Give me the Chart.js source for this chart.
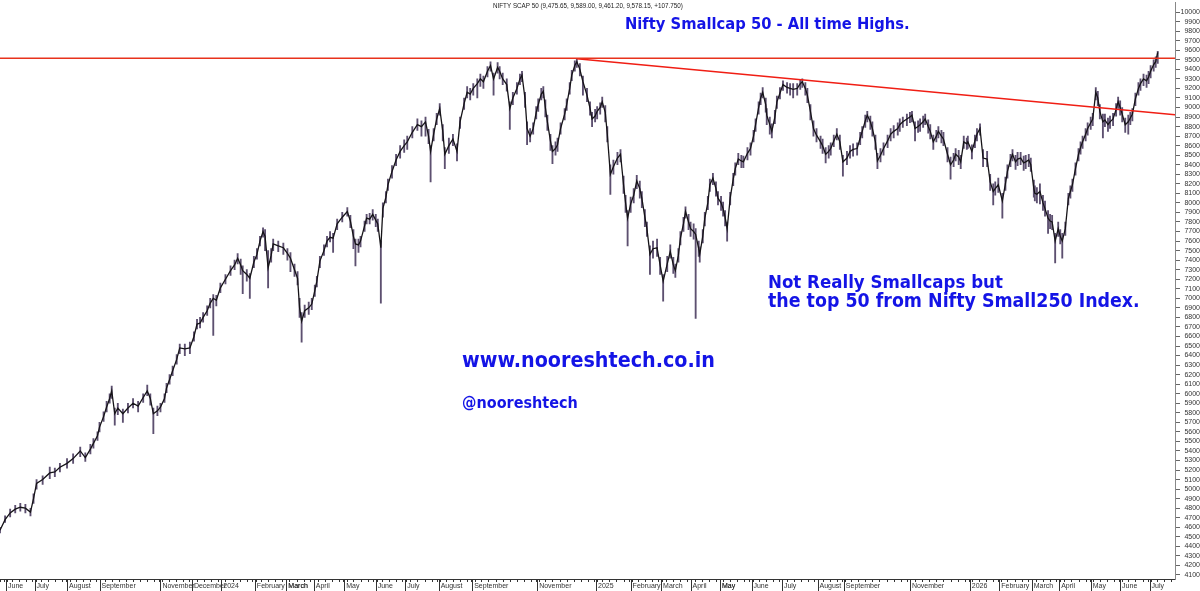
<!DOCTYPE html>
<html>
<head>
<meta charset="utf-8">
<script src="https://cdn.jsdelivr.net/npm/chart.js@4.4.1/dist/chart.umd.min.js"></script>
<style>
  html, body { margin: 0; padding: 0; background: #fff; }
  #wrap { width: 1200px; height: 591px; position: relative; }
</style>
</head>
<body>
<div id="wrap"><canvas id="chart"></canvas></div>
<script>
// NIFTY SCAP 50 daily, sampled off the chart. day = calendar days from the first bar
const day = [
  0,5,10,15,20,25,30,33,36,42, 49,54,59,66,72,79,84,89,92,96,
  98,102,105,108,110,113,116,121,126,131, 136,141,145,148,151,155,158,162,164,167,
  170,174,177,182,187,191,194,197,200,204, 207,210,213,217,222,227,231,234,237,239,
  243,246,250,253,256,259,261,264,267,269, 274,279,283,286,290,293,295,297,300,304,
  307,310,312,315,319,322,325,328,332,337, 342,345,348,350,353,355,359,361,364,367,
  370,372,375,377,380,382,386,390,
  394,398,401,406,411,415,419,422,424,427, 430,433,436,438,442,446,450,453,457,460,
  463,466,470,473,476,480,483,486,490,492, 495,499,502,505,509,512,514,517,519,522,
  525,528,530,533,535,537,539,542,544,547, 549,552,556,558,561,563,566,568,571,574,
  578,581,583,586,588,591,593,596,598,601, 604,608,611,614,616,618,621,624,627,630,
  632,635,637,640,643,647,650,653,657,660, 663,665,668,670,673,675,678,680,683,685,
  688,689,692,694,697,699,702,705,707,710, 712,714,716,719,722,724,727,730,732,736,
  739,742,744,747,749,751,754,755,758,760, 763,765,768,771,775,778,781,785,
  788,790,793,795,798,801,804,808,810,813, 816,818,821,824,827,830,834,837,840,844,
  847,849,852,854,857,859,862,864,867,870, 874,877,880,884,886,889,893,896,898,901,
  904,906,909,911,914,916,919,922,924,927, 929,933,936,939,941,944,946,949,952,953,
  957,960,962,965,968,972,975,978,980,983, 987,990,992,995,997,1000,1002,1005,1008,1010,
  1013,1015,1018,1019,1021,1024,1027,1029,1032,1034, 1036,1039,1042,1044,1046,1049,1052,1054,1056,1059,
  1062,1064,1066,1069,1071,1074,1076,1079,1081,1083, 1086,1088,1091,1093,1096,1099,1101,1103,1105,1108,
  1111,1113,1115,1118,1121,1123,1126,1129,1131,1133, 1136,1138,1140
];

const close = [
  4570,4680,4750,4790,4810,4800,4760,4900,5060,5100, 5170,5180,5230,5270,5320,5400,5330,5420,5480,5560,
  5650,5760,5860,5950,6030,5790,5850,5790,5850,5900, 5870,5960,6030,5950,5790,5820,5860,5950,6060,6150,
  6240,6360,6480,6470,6480,6600,6730,6740,6800,6870, 6950,7000,6980,7110,7200,7290,7350,7420,7350,7290,
  7250,7210,7380,7460,7600,7700,7650,7320,7450,7570, 7550,7530,7470,7420,7300,7210,6900,6760,6870,6900,
  6940,7080,7180,7390,7500,7600,7640,7630,7780,7850, 7910,7810,7650,7570,7560,7600,7760,7840,7830,7880,
  7820,7780,7530,7940,8060,8190,8330,8450,
  8540,8600,8640,8740,8820,8800,8850,8700,8540,8720, 8880,8990,8750,8510,8600,8670,8540,8850,9040,9160,
  9140,9200,9250,9300,9270,9380,9440,9300,9420,9380, 9300,9240,8990,9100,9200,9300,9340,9090,8780,8700,
  8780,8950,9030,9140,9170,9000,8850,8650,8540,8570, 8610,8780,8930,9030,9200,9340,9440,9480,9400,9270,
  9130,8990,8880,8910,8960,9000,9060,8950,8720,8300, 8380,8470,8510,8190,8000,7840,7990,8080,8230,8150,
  8050,7850,7730,7460,7520,7530,7350,7180,7360,7490, 7350,7290,7450,7630,7780,7910,7800,7730,7700,7670,
  7520,7460,7650,7840,8000,8190,8260,8150,8050,8000, 7940,7850,7730,8050,8250,8360,8460,8440,8430,8520,
  8570,8700,8820,9000,9100,9160,9030,8920,8820,8750, 8900,9060,9150,9240,9210,9200,9190,9200,
  9250,9270,9200,9130,8960,8780,8710,8640,8600,8510, 8540,8570,8650,8720,8640,8430,8470,8540,8560,8570,
  8680,8750,8860,8920,8850,8780,8640,8440,8500,8570, 8650,8720,8750,8780,8820,8850,8880,8900,8920,8780,
  8800,8820,8850,8880,8800,8750,8640,8700,8750,8700, 8670,8510,8400,8450,8510,8480,8430,8640,8620,8640,
  8540,8650,8720,8780,8470,8460,8220,8120,8150,8190, 8020,8200,8330,8450,8510,8430,8460,8470,8420,8430,
  8450,8400,8150,8100,8090,8120,8000,7940,7840,7810, 7800,7600,7730,7650,7600,7730,8050,8120,8190,8360,
  8510,8580,8640,8720,8780,8840,8880,9160,9100,8960, 8850,8870,8820,8850,8880,8980,9060,9000,8930,8820,
  8850,8890,8930,9090,9200,9250,9300,9280,9320,9380, 9450,9480,9578
];

const low = [
  4540,4650,4710,4750,4770,4750,4720,4850,5000,5050, 5110,5130,5180,5220,5270,5340,5290,5370,5430,5510,
  5600,5710,5810,5900,5950,5670,5780,5700,5800,5850, 5810,5910,5980,5880,5580,5770,5810,5910,6010,6100,
  6190,6310,6420,6400,6420,6550,6680,6690,6750,6820, 6900,6610,6920,7060,7150,7240,7300,7360,7250,7050,
  7180,7000,7320,7410,7550,7640,7500,7110,7380,7500, 7490,7460,7400,7280,7230,7140,6800,6540,6800,6830,
  6880,7020,7120,7320,7450,7540,7590,7480,7720,7800, 7860,7740,7520,7340,7480,7540,7700,7780,7780,7820,
  7750,7700,6950,7850,8000,8130,8260,8390,
  8470,8530,8560,8680,8760,8700,8700,8620,8220,8650, 8820,8920,8650,8360,8520,8600,8440,8780,8980,9100,
  9080,9130,9100,9220,9200,9320,9380,9130,9360,9300, 9240,9170,8770,9030,9140,9240,9270,9000,8610,8640,
  8720,8880,8960,9080,9100,8900,8760,8550,8410,8500, 8540,8720,8870,8970,9140,9280,9380,9420,9330,9130,
  9060,8920,8800,8850,8880,8930,9000,8850,8640,8090, 8300,8400,8430,8100,7900,7550,7900,8000,8150,8050,
  7950,7750,7650,7250,7420,7440,7250,6970,7280,7420, 7260,7220,7380,7560,7700,7840,7720,7650,7620,6790,
  7440,7380,7580,7760,7930,8120,8190,8070,7980,7920, 7860,7760,7600,7980,8180,8290,8400,8370,8370,8450,
  8500,8640,8750,8930,9030,9100,8950,8820,8720,8680, 8830,8990,9090,9180,9150,9130,9100,9130,
  9190,9210,9130,9050,8870,8700,8640,8570,8520,8420, 8470,8500,8590,8660,8560,8280,8400,8470,8490,8500,
  8610,8680,8790,8850,8770,8700,8560,8360,8430,8500, 8580,8650,8680,8710,8750,8790,8810,8840,8850,8650,
  8740,8750,8790,8820,8730,8670,8560,8640,8680,8630, 8600,8430,8250,8380,8440,8400,8360,8570,8560,8570,
  8460,8580,8650,8710,8380,8380,8130,7980,8080,8110, 7840,8130,8260,8380,8440,8350,8390,8400,8340,8360,
  8380,8330,8060,8020,8000,7990,7920,7860,7680,7730, 7720,7370,7650,7570,7420,7660,7980,8050,8120,8290,
  8440,8510,8570,8650,8710,8770,8810,9080,9020,8880, 8680,8800,8750,8780,8810,8910,8990,8920,8850,8740,
  8720,8820,8860,9020,9130,9180,9230,9210,9250,9310, 9380,9420,9461
];

const high = [
  4600,4720,4790,4830,4850,4840,4800,4950,5100,5140, 5230,5220,5270,5320,5370,5440,5380,5470,5530,5600,
  5700,5810,5920,6000,6080,5850,5900,5840,5900,5950, 5920,6000,6090,6000,5850,5870,5900,6000,6110,6200,
  6290,6410,6520,6520,6540,6650,6780,6800,6850,6920, 7000,7040,7030,7160,7250,7340,7400,7470,7410,7340,
  7300,7260,7440,7520,7650,7740,7720,7500,7520,7620, 7600,7580,7520,7480,7360,7280,7000,6850,6930,6960,
  7000,7140,7230,7440,7560,7650,7700,7680,7830,7900, 7950,7870,7720,7620,7620,7650,7810,7880,7890,7930,
  7880,7830,7600,8000,8120,8250,8390,8510,
  8600,8660,8700,8800,8880,8860,8900,8770,8600,8780, 8940,9040,8820,8580,8680,8720,8620,8900,9100,9220,
  9200,9250,9300,9350,9330,9430,9480,9360,9470,9430, 9360,9300,9060,9160,9260,9350,9380,9160,8850,8780,
  8840,9010,9090,9200,9220,9080,8920,8720,8600,8640, 8680,8840,8990,9090,9260,9390,9490,9510,9460,9330,
  9200,9060,8950,8980,9010,9050,9110,9020,8800,8400, 8450,8530,8560,8280,8080,7920,8060,8150,8290,8230,
  8120,7930,7800,7550,7600,7620,7430,7250,7440,7560, 7430,7360,7520,7700,7850,7960,7880,7800,7780,7730,
  7600,7540,7720,7900,8070,8250,8310,8220,8120,8070, 8010,7920,7800,8110,8310,8420,8520,8500,8490,8580,
  8630,8760,8880,9060,9150,9210,9100,8990,8900,8830, 8970,9120,9210,9280,9260,9250,9250,9250,
  9290,9300,9260,9200,9030,8860,8780,8700,8670,8580, 8600,8630,8710,8780,8710,8500,8540,8600,8620,8630,
  8740,8800,8920,8960,8910,8850,8710,8520,8570,8630, 8710,8780,8810,8840,8880,8900,8930,8950,8960,8850,
  8860,8880,8910,8930,8870,8820,8710,8760,8800,8760, 8740,8580,8480,8520,8570,8550,8500,8700,8680,8700,
  8610,8710,8780,8830,8560,8540,8300,8200,8220,8260, 8100,8270,8400,8510,8560,8500,8530,8530,8490,8500,
  8510,8470,8240,8180,8160,8200,8080,8020,7920,7880, 7870,7680,7800,7720,7680,7800,8100,8180,8250,8420,
  8570,8640,8700,8780,8840,8900,8940,9210,9170,9030, 8930,8930,8890,8910,8940,9040,9110,9070,9000,8890,
  8920,8950,8990,9150,9260,9300,9350,9340,9380,9440, 9500,9530,9589
];

// month ticks on the date axis (days), with the labels the chart prints
const monthDay = [6,34,66,98,158,189,218,251,282,309,339,370,399,432,465,529,587,621,651,680,709,740,770,805,831,896,955,984,1016,1043,1074,1103,1132];
const monthLabel = ['June','July','August','September','November','December','2024','February','March','April','May','June',
  'July','August','September','November','2025','February','March','April','May','June',
  'July','August','September','November','2026','February','March','April','May','June','July'];

// drawn lines: all-time-high level and falling trendline
const athLevel = 9515;
const trendDay = [568, 1157];
const trendVal = [9510, 8925];

const xMax = 1157;
const yMin = 4058, yMax = 10104;

if (close.length !== day.length || low.length !== day.length || high.length !== day.length) {
  throw new Error('length mismatch ' + [day.length, close.length, low.length, high.length].join(','));
}

const blue = '#1414e6';

function fitText(ctx, text, x, y, width, weight, family) {
  ctx.font = weight + ' 20px ' + family;
  const w = ctx.measureText(text).width;
  const size = 20 * width / w;
  ctx.font = weight + ' ' + size.toFixed(2) + 'px ' + family;
  ctx.fillText(text, x, y);
}

const notes = {
  id: 'notes',
  afterDraw(chart) {
    const ctx = chart.ctx;
    const xs = chart.scales.x;
    ctx.save();
    // month separators
    ctx.strokeStyle = '#333';
    ctx.lineWidth = 1;
    monthDay.forEach(d => {
      const px = Math.round(xs.getPixelForValue(d)) + 0.5;
      ctx.beginPath();
      ctx.moveTo(px, chart.chartArea.bottom);
      ctx.lineTo(px, 591);
      ctx.stroke();
    });
    ctx.textBaseline = 'alphabetic';
    ctx.fillStyle = '#222';
    fitText(ctx, 'NIFTY SCAP 50 (9,475.65, 9,589.00, 9,461.20, 9,578.15, +107.750)', 493, 8, 190, 'normal', '"Liberation Sans", Arial');
    ctx.fillStyle = blue;
    const fam = '"DejaVu Sans Condensed", "DejaVu Sans", Verdana';
    fitText(ctx, 'Nifty Smallcap 50 - All time Highs.', 625, 29, 285, 'bold', fam);
    fitText(ctx, 'Not Really Smallcaps but', 768, 288, 235, 'bold', fam);
    fitText(ctx, 'the top 50 from Nifty Small250 Index.', 768, 307, 372, 'bold', fam);
    fitText(ctx, 'www.nooreshtech.co.in', 462, 367, 253, 'bold', fam);
    fitText(ctx, '@nooreshtech', 462, 408, 116, 'bold', fam);
    ctx.restore();
  }
};

const ctx = document.getElementById('chart').getContext('2d');
new Chart(ctx, {
  type: 'bar',
  data: {
    datasets: [
      {
        type: 'line',
        data: [{ x: 0, y: athLevel }, { x: xMax, y: athLevel }],
        borderColor: '#e8321c',
        borderWidth: 1.5,
        pointRadius: 0,
        order: 0
      },
      {
        type: 'line',
        data: trendDay.map((d, i) => ({ x: d, y: trendVal[i] })),
        borderColor: '#f01e14',
        borderWidth: 1.5,
        pointRadius: 0,
        order: 0
      },
      {
        type: 'line',
        data: day.map((d, i) => ({ x: d, y: close[i] })),
        borderColor: '#161418',
        borderWidth: 1.3,
        pointRadius: 0,
        tension: 0,
        order: 1
      },
      {
        type: 'bar',
        data: day.map((d, i) => ({ x: d, y: [low[i], high[i]] })),
        backgroundColor: '#5d5070',
        barThickness: 1.2,
        grouped: false,
        order: 2
      }
    ]
  },
  options: {
    responsive: true,
    maintainAspectRatio: false,
    animation: false,
    layout: { padding: 0 },
    plugins: { legend: { display: false }, tooltip: { enabled: false } },
    scales: {
      x: {
        type: 'linear',
        offset: false,
        min: 0,
        max: xMax,
        afterBuildTicks(scale) {
          const t = [];
          for (let d = 2; d < xMax; d += 7) t.push({ value: d });
          monthDay.forEach(d => t.push({ value: d }));
          t.sort((a, b) => a.value - b.value);
          scale.ticks = t;
        },
        afterFit(scale) { scale.height = 12; },
        ticks: {
          autoSkip: false,
          maxRotation: 0,
          align: 'start',
          padding: 0,
          color: '#333',
          font: { family: '"Liberation Sans", Arial', size: 7 },
          callback(value) {
            const i = monthDay.indexOf(value);
            return i >= 0 ? ' ' + monthLabel[i] : '';
          }
        },
        grid: { drawOnChartArea: false, tickLength: 3, color: '#333' },
        border: { color: '#333' }
      },
      y: {
        position: 'right',
        min: yMin,
        max: yMax,
        afterBuildTicks(scale) {
          const t = [];
          for (let v = 4100; v <= 10000; v += 100) t.push({ value: v });
          scale.ticks = t;
        },
        afterFit(scale) { scale.width = 25; },
        ticks: {
          autoSkip: false,
          crossAlign: 'far',
          padding: 2,
          color: '#333',
          font: { family: '"Liberation Sans", Arial', size: 7, lineHeight: 0.05 },
          callback: v => String(v)
        },
        grid: { drawOnChartArea: false, tickLength: 5, color: '#666' },
        border: { color: '#888' }
      }
    }
  },
  plugins: [notes]
});
</script>
</body>
</html>
